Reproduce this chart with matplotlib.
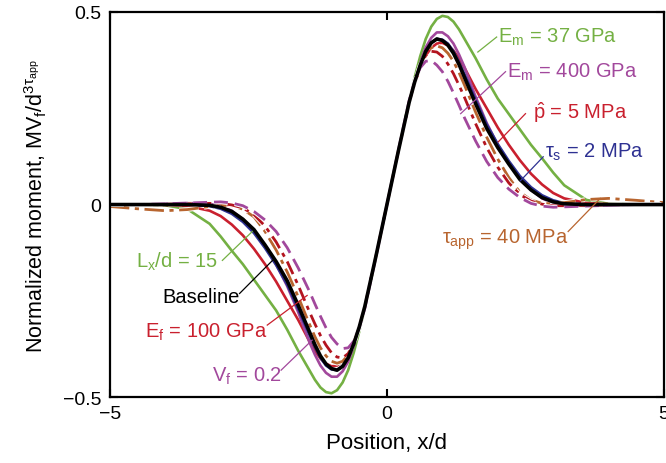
import matplotlib
matplotlib.use("Agg")
import matplotlib.pyplot as plt
import matplotlib.patheffects as pe

plt.rcParams["font.family"] = ["Liberation Sans", "DejaVu Sans"]
plt.rcParams["mathtext.fontset"] = "custom"
plt.rcParams["mathtext.rm"] = "Liberation Sans"
plt.rcParams["mathtext.it"] = "Liberation Sans"
plt.rcParams["mathtext.bf"] = "Liberation Sans"

# --- Daten ---
x = [-5.0, -4.5, -4.0, -3.6, -3.2, -3.0, -2.8, -2.6, -2.4, -2.2, -2.0, -1.8, -1.6,
     -1.4, -1.3, -1.2, -1.1, -1.0, -0.9, -0.8, -0.7, -0.6, -0.5, -0.4, -0.2,
     0.0,
     0.2, 0.4, 0.5, 0.6, 0.7, 0.8, 0.9, 1.0, 1.1, 1.2, 1.3, 1.4,
     1.6, 1.8, 2.0, 2.2, 2.4, 2.6, 2.8, 3.0, 3.2, 3.6, 4.0, 4.5, 5.0]

baseline = [0, 0, 0, 0, -0.002, -0.007, -0.018, -0.038, -0.065, -0.105, -0.148, -0.198, -0.262,
            -0.33, -0.364, -0.393, -0.414, -0.426, -0.43, -0.42, -0.398, -0.362, -0.318, -0.265, -0.135,
            0,
            0.135, 0.265, 0.318, 0.362, 0.398, 0.42, 0.43, 0.426, 0.414, 0.393, 0.364, 0.33,
            0.262, 0.198, 0.148, 0.105, 0.065, 0.038, 0.018, 0.007, 0.002, 0, 0, 0, 0]

em_37 = [0, 0, -0.002, -0.012, -0.05, -0.083, -0.12, -0.155, -0.195, -0.235, -0.275, -0.325, -0.38,
         -0.43, -0.455, -0.475, -0.487, -0.49, -0.482, -0.462, -0.43, -0.385, -0.33, -0.27, -0.137,
         0,
         0.137, 0.27, 0.33, 0.385, 0.43, 0.462, 0.482, 0.49, 0.487, 0.475, 0.455, 0.43,
         0.38, 0.325, 0.275, 0.235, 0.195, 0.155, 0.12, 0.083, 0.05, 0.012, 0.002, 0, 0]

em_400 = [0, 0, 0.002, 0.004, 0.002, -0.004, -0.016, -0.038, -0.068, -0.108, -0.155, -0.212, -0.28,
          -0.357, -0.39, -0.418, -0.437, -0.447, -0.447, -0.433, -0.408, -0.368, -0.32, -0.265, -0.135,
          0,
          0.135, 0.265, 0.32, 0.368, 0.408, 0.433, 0.447, 0.447, 0.437, 0.418, 0.39, 0.357,
          0.28, 0.212, 0.155, 0.108, 0.068, 0.038, 0.016, 0.004, -0.002, -0.004, -0.002, 0, 0]

p_hat_5 = [0, 0, -0.001, -0.004, -0.016, -0.03, -0.052, -0.08, -0.115, -0.155, -0.2, -0.25, -0.3,
           -0.355, -0.38, -0.4, -0.413, -0.42, -0.418, -0.407, -0.387, -0.355, -0.313, -0.262, -0.135,
           0,
           0.135, 0.262, 0.313, 0.355, 0.387, 0.407, 0.418, 0.42, 0.413, 0.4, 0.38, 0.355,
           0.3, 0.25, 0.2, 0.155, 0.115, 0.08, 0.052, 0.03, 0.016, 0.004, 0.001, 0, 0]

tau_s_2 = [0, 0, 0, 0, -0.004, -0.011, -0.024, -0.045, -0.074, -0.113, -0.157, -0.208, -0.272,
           -0.338, -0.37, -0.398, -0.418, -0.428, -0.43, -0.42, -0.397, -0.362, -0.318, -0.265, -0.135,
           0,
           0.135, 0.265, 0.318, 0.362, 0.397, 0.42, 0.43, 0.428, 0.418, 0.398, 0.37, 0.338,
           0.272, 0.208, 0.157, 0.113, 0.074, 0.045, 0.024, 0.011, 0.004, 0, 0, 0, 0]

tau_app_40 = [-0.005, -0.011, -0.016, -0.013, -0.005, -0.002, -0.003, -0.012, -0.032, -0.07, -0.118, -0.175, -0.24,
              -0.31, -0.343, -0.372, -0.393, -0.407, -0.412, -0.407, -0.391, -0.36, -0.318, -0.265, -0.135,
              0,
              0.135, 0.265, 0.318, 0.36, 0.391, 0.407, 0.412, 0.407, 0.393, 0.372, 0.343, 0.31,
              0.24, 0.175, 0.118, 0.07, 0.032, 0.012, 0.003, 0.002, 0.005, 0.013, 0.016, 0.011, 0.005]

ef_100 = [0, 0, 0.001, 0.002, 0.003, 0.003, -0.001, -0.009, -0.026, -0.056, -0.097, -0.148, -0.21,
          -0.278, -0.31, -0.34, -0.365, -0.385, -0.396, -0.398, -0.387, -0.36, -0.318, -0.265, -0.135,
          0,
          0.135, 0.265, 0.318, 0.36, 0.387, 0.398, 0.396, 0.385, 0.365, 0.34, 0.31, 0.278,
          0.21, 0.148, 0.097, 0.056, 0.026, 0.009, 0.001, -0.003, -0.003, -0.002, -0.001, 0, 0]

vf_02 = [0, 0, 0.002, 0.004, 0.006, 0.007, 0.004, -0.003, -0.018, -0.04, -0.07, -0.112, -0.165,
         -0.225, -0.258, -0.29, -0.32, -0.345, -0.362, -0.374, -0.372, -0.355, -0.32, -0.27, -0.137,
         0,
         0.137, 0.27, 0.32, 0.355, 0.372, 0.374, 0.362, 0.345, 0.32, 0.29, 0.258, 0.225,
         0.165, 0.112, 0.07, 0.04, 0.018, 0.003, -0.004, -0.007, -0.006, -0.004, -0.002, 0, 0]

# --- Farben ---
GRUEN = "#74b043"
LILA = "#a2489c"
ROT = "#c9202e"
DUNKELROT = "#b3141f"
BLAU = "#2e3192"
BRAUN = "#b8652f"

fig = plt.figure(figsize=(6.66, 4.64), dpi=100)
ax = fig.add_axes([0.165, 0.142, 0.832, 0.83])

weiss = [pe.Stroke(linewidth=3.4, foreground="white"), pe.Normal()]

ax.plot(x, em_37, color=GRUEN, linewidth=1.9, solid_joinstyle="round")
ax.plot(x, p_hat_5, color=ROT, linewidth=1.9, solid_joinstyle="round")
ax.plot(x, em_400, color=LILA, linewidth=1.9, solid_joinstyle="round")
ax.plot(x, tau_s_2, color=BLAU, linewidth=1.9, solid_joinstyle="round")
ax.plot(x, tau_app_40, color=BRAUN, linewidth=2.0, dashes=(7, 2, 1.5, 2),
        path_effects=weiss)
ax.plot(x, ef_100, color=DUNKELROT, linewidth=2.0, dashes=(5, 2, 1.5, 2),
        path_effects=weiss)
ax.plot(x, vf_02, color=LILA, linewidth=2.0, dashes=(5, 2.5),
        path_effects=weiss)
# Baseline zuletzt, damit sie im Nulldurchgang oben liegt
ax.plot(x, baseline, color="black", linewidth=2.6, solid_joinstyle="round")

# --- Beschriftungen mit Hinweislinien ---
labels = [
    (r"E$_\mathregular{m}$ = 37 GPa", GRUEN, (2.01, 0.438), (1.98, 0.435), (1.64, 0.396)),
    (r"E$_\mathregular{m}$ = 400 GPa", LILA, (2.16, 0.347), (2.14, 0.345), (1.33, 0.236)),
    (r"$\hat{\mathregular{p}}$ = 5 MPa", ROT, (2.64, 0.241), (2.5, 0.236), (2.01, 0.163)),
    (r"$\tau_\mathregular{s}$ = 2 MPa", BLAU, (2.86, 0.137), (2.82, 0.124), (2.41, 0.062)),
    (r"$\tau_\mathregular{app}$ = 40 MPa", BRAUN, (0.99, -0.088), (3.27, -0.07), (3.85, 0.016)),
    (r"L$_\mathregular{x}$/d = 15", GRUEN, (-4.53, -0.145), (-2.97, -0.145), (-2.43, -0.07)),
    ("Baseline", "black", (-4.06, -0.238), (-2.66, -0.231), (-2.03, -0.14)),
    (r"E$_\mathregular{f}$ = 100 GPa", ROT, (-4.37, -0.329), (-2.16, -0.313), (-1.44, -0.236)),
    (r"V$_\mathregular{f}$ = 0.2", LILA, (-3.15, -0.443), (-1.91, -0.43), (-1.35, -0.352)),
]
for text, farbe, pos, start, ende in labels:
    ax.text(pos[0], pos[1], text, color=farbe, fontsize=14.5, ha="left", va="center")
    ax.plot([start[0], ende[0]], [start[1], ende[1]], color=farbe, linewidth=0.9)

ax.set_xlim(-5, 5)
ax.set_ylim(-0.5, 0.5)
ax.set_xticks([-5, 0, 5])
ax.set_yticks([-0.5, 0, 0.5])
ax.set_yticklabels(["\u22120.5", "0", "0.5"])
ax.set_xticklabels(["\u22125", "0", "5"])
ax.tick_params(direction="in", length=6, width=1.5, labelsize=14,
               top=True, right=True, pad=6)
for s in ax.spines.values():
    s.set_linewidth(1.6)

ax.set_xlabel("Position, x/d", fontsize=16, labelpad=7)
ax.set_ylabel(r"Normalized moment, MV$_\mathregular{f}$/d$^\mathregular{3}$$^{\tau_\mathregular{app}}$",
              fontsize=15.5, labelpad=10)

fig.savefig("out.png", dpi=100)
